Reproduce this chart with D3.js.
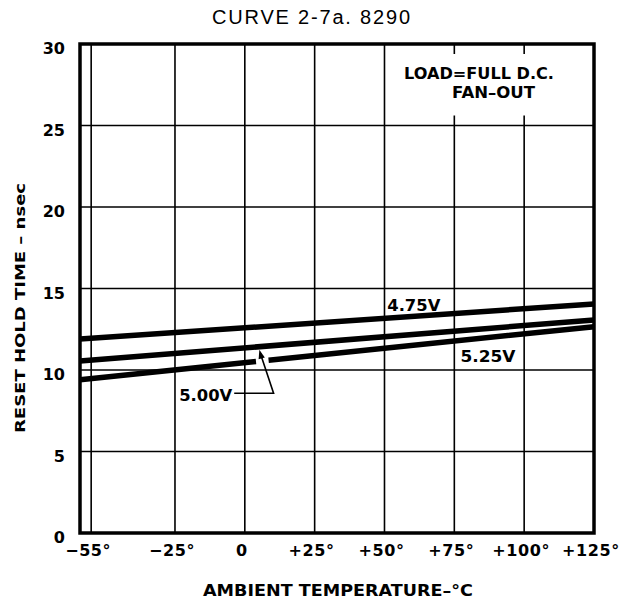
<!DOCTYPE html>
<html>
<head>
<meta charset="utf-8">
<script src="https://cdn.jsdelivr.net/npm/d3@7"></script>
<style>
  html, body { margin: 0; padding: 0; background: #fff; }
  svg { display: block; }
</style>
</head>
<body>
<svg id="chart" width="633" height="604"></svg>
<script>
// ---- data ----
const xTicks = [-55, -25, 0, 25, 50, 75, 100, 125];
const xTickLabels = ["\u221255\u00b0", "\u221225\u00b0", "0", "+25\u00b0", "+50\u00b0", "+75\u00b0", "+100\u00b0", "+125\u00b0"];
const yTicks = [0, 5, 10, 15, 20, 25, 30];
const yTickLabels = ["0", "5", "10", "15", "20", "25", "30"];
const xDomain = [-59, 125];
const yDomain = [0, 30];
const seriesNames = ["4.75V", "5.00V", "5.25V"];
const lineTemps = [-59, 125];
const values475 = [11.9, 14.05];
const values500 = [10.55, 13.07];
const values525 = [9.4, 12.66];
const gap525 = [4, 8.5];           // break in the 5.25V line where the leader passes
const titleText = "CURVE  2-7a.  8290";
const yTitle = "RESET  HOLD  TIME \u2013 nsec";
const xTitle = "AMBIENT  TEMPERATURE\u2013\u00b0C";
const noteLines = ["LOAD=FULL  D.C.", "FAN\u2013OUT"];

// ---- layout ----
const svg = d3.select("#chart");
const margin = { left: 80, right: 39, top: 44, bottom: 71 };
const W = 633, H = 604;
const x = d3.scaleLinear().domain(xDomain).range([margin.left, W - margin.right]);
const y = d3.scaleLinear().domain(yDomain).range([H - margin.bottom, margin.top]);
const boldFont = "'DejaVu Sans', 'Liberation Sans', sans-serif";

svg.append("rect").attr("width", W).attr("height", H).attr("fill", "#fff");

// grid
const grid = svg.append("g").attr("stroke", "#000").attr("stroke-width", 1.6);
grid.selectAll("line.v").data(xTicks.filter(t => t < xDomain[1])).join("line")
  .attr("x1", d => x(d)).attr("x2", d => x(d))
  .attr("y1", y(yDomain[1])).attr("y2", y(yDomain[0]));
grid.selectAll("line.h").data(yTicks.filter(t => t > yDomain[0] && t < yDomain[1])).join("line")
  .attr("x1", x(xDomain[0])).attr("x2", x(xDomain[1]))
  .attr("y1", d => y(d)).attr("y2", d => y(d));

// note box (white area hiding grid)
svg.append("rect")
  .attr("x", x(50) + 1.5).attr("y", y(30) + 10)
  .attr("width", x(125) - x(50) - 3).attr("height", y(25) - y(30) - 20)
  .attr("fill", "#fff");
const note = svg.append("g").attr("font-family", boldFont).attr("font-weight", "bold")
  .attr("font-size", 15).attr("fill", "#000");
note.append("text").attr("x", 404).attr("y", 79).text(noteLines[0]).attr("textLength", 150).attr("lengthAdjust", "spacingAndGlyphs");
note.append("text").attr("x", 452).attr("y", 98).text(noteLines[1]).attr("textLength", 83).attr("lengthAdjust", "spacingAndGlyphs");

// frame
svg.append("rect")
  .attr("x", x(xDomain[0])).attr("y", y(yDomain[1]))
  .attr("width", x(xDomain[1]) - x(xDomain[0])).attr("height", y(yDomain[0]) - y(yDomain[1]))
  .attr("fill", "none").attr("stroke", "#000").attr("stroke-width", 3.5);

// series lines
const line = d3.line().x(d => x(d[0])).y(d => y(d[1]));
const allSeries = [values475, values500, values525];
const paths = svg.append("g").selectAll("path").data(allSeries).join("path")
  .attr("d", vals => line(lineTemps.map((t, i) => [t, vals[i]])))
  .attr("fill", "none").attr("stroke", "#000").attr("stroke-width", 5.5);
// break in 5.25V line
const p525 = paths.filter((d, i) => i === 2).node();
const L = p525.getTotalLength();
const f = t => (x(t) - x(lineTemps[0])) / (x(lineTemps[1]) - x(lineTemps[0]));
d3.select(p525).attr("stroke-dasharray", `${L * f(gap525[0])} ${L * (f(gap525[1]) - f(gap525[0]))} ${L}`);

// series labels
const lab = svg.append("g").attr("font-family", boldFont).attr("font-weight", "bold")
  .attr("font-size", 16).attr("fill", "#000");
lab.append("text").attr("x", x(51)).attr("y", y(13.6)).text(seriesNames[0]).attr("textLength", 53).attr("lengthAdjust", "spacingAndGlyphs");
lab.append("text").attr("x", x(77.2)).attr("y", y(10.5)).text(seriesNames[2]).attr("textLength", 55).attr("lengthAdjust", "spacingAndGlyphs");
lab.append("text").attr("x", x(-4.5)).attr("y", y(8.1)).attr("text-anchor", "end").text(seriesNames[1]).attr("textLength", 53).attr("lengthAdjust", "spacingAndGlyphs");

// leader with arrow for 5.00V
const leader = [[-3.8, 8.57], [10.3, 8.57], [5.6, 11.0]];
svg.append("path")
  .attr("d", d3.line().x(d => x(d[0])).y(d => y(d[1]))(leader))
  .attr("fill", "none").attr("stroke", "#000").attr("stroke-width", 1.6);
{
  const tip = [x(5.2), y(11.25)];
  const from = [x(leader[2][0]), y(leader[2][1])];
  const ang = Math.atan2(tip[1] - from[1], tip[0] - from[0]);
  const len = 9, wid = 3.2;
  const bx = tip[0] - len * Math.cos(ang), by = tip[1] - len * Math.sin(ang);
  const px = -Math.sin(ang) * wid, py = Math.cos(ang) * wid;
  svg.append("path")
    .attr("d", `M${tip[0]},${tip[1]}L${bx + px},${by + py}L${bx - px},${by - py}Z`)
    .attr("fill", "#000");
  svg.append("line").attr("x1", from[0]).attr("y1", from[1]).attr("x2", bx).attr("y2", by)
    .attr("stroke", "#000").attr("stroke-width", 1.6);
}

// axes tick labels
const axisG = svg.append("g").attr("font-family", boldFont).attr("font-weight", "bold").attr("fill", "#000");
axisG.selectAll("text.x").data(xTicks).join("text")
  .attr("x", d => x(d) - 3).attr("y", H - margin.bottom + 23)
  .attr("text-anchor", "middle").attr("font-size", 16).attr("letter-spacing", 0.6)
  .text((d, i) => xTickLabels[i]);
axisG.selectAll("text.y").data(yTicks).join("text")
  .attr("x", margin.left - 15).attr("y", d => y(d) + 10)
  .attr("text-anchor", "end").attr("font-size", 16)
  .text((d, i) => yTickLabels[i]);

// titles
svg.append("text").attr("x", 212).attr("y", 24)
  .attr("font-family", "'Liberation Sans Narrow', 'Liberation Sans', Arial, sans-serif")
  .attr("font-size", 20).attr("fill", "#000")
  .attr("textLength", 198).attr("lengthAdjust", "spacing").text(titleText);
svg.append("text").attr("x", 203).attr("y", 596)
  .attr("font-family", boldFont).attr("font-weight", "bold").attr("font-size", 15)
  .attr("textLength", 270).attr("lengthAdjust", "spacingAndGlyphs").attr("fill", "#000").text(xTitle);
svg.append("text").attr("transform", "translate(25,433) rotate(-90)")
  .attr("font-family", boldFont).attr("font-weight", "bold").attr("font-size", 14)
  .attr("textLength", 250).attr("lengthAdjust", "spacingAndGlyphs").attr("fill", "#000").text(yTitle);
</script>
</body>
</html>
